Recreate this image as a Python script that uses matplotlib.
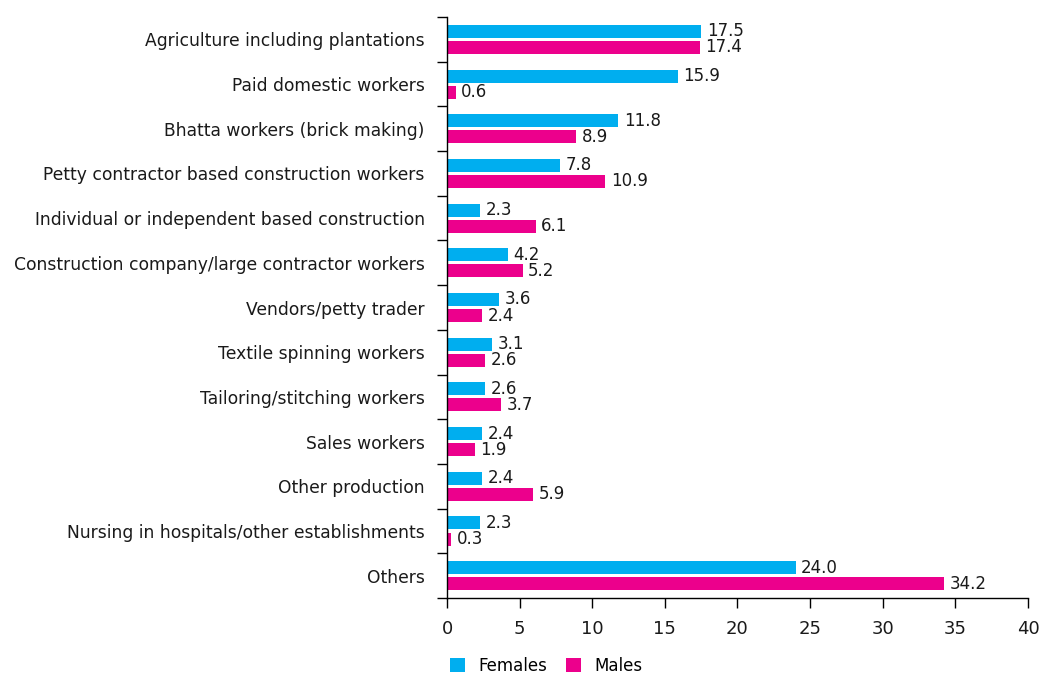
import matplotlib.pyplot as plt
import numpy as np

categories = [
    "Agriculture including plantations",
    "Paid domestic workers",
    "Bhatta workers (brick making)",
    "Petty contractor based construction workers",
    "Individual or independent based construction",
    "Construction company/large contractor workers",
    "Vendors/petty trader",
    "Textile spinning workers",
    "Tailoring/stitching workers",
    "Sales workers",
    "Other production",
    "Nursing in hospitals/other establishments",
    "Others",
]
females = [17.5, 15.9, 11.8, 7.8, 2.3, 4.2, 3.6, 3.1, 2.6, 2.4, 2.4, 2.3, 24.0]
males = [17.4, 0.6, 8.9, 10.9, 6.1, 5.2, 2.4, 2.6, 3.7, 1.9, 5.9, 0.3, 34.2]

plt.rcParams['font.family'] = ['DejaVu Sans']

fig = plt.figure(figsize=(10.41, 6.73), dpi=100)
ax = fig.add_axes([0.4294, 0.1114, 0.5581, 0.8633])

y = np.arange(len(categories))
h = 0.29
gap = 0.07
fc = '#00AEEF'
mc = '#EC008C'
b1 = ax.barh(y - (h + gap) / 2, females, height=h, color=fc, label='Females')
b2 = ax.barh(y + (h + gap) / 2, males, height=h, color=mc, label='Males')

for bars, vals in ((b1, females), (b2, males)):
    for b, v in zip(bars, vals):
        ax.annotate(f"{v:.1f}", (v, b.get_y() + b.get_height() / 2),
                    xytext=(4, 0), textcoords='offset points',
                    va='center', ha='left', fontsize=12, color='#1a1a1a')

ax.set_ylim(len(categories) - 0.5, -0.5)
ax.set_xlim(0, 40)
ax.set_xticks(range(0, 41, 5))
ax.set_yticks(np.arange(-0.5, len(categories), 1))
ax.set_yticklabels([])
ax.set_yticks(y, minor=True)
ax.set_yticklabels(categories, minor=True, fontsize=12.3, color='#1a1a1a')
ax.tick_params(axis='y', which='minor', length=0, pad=16)
ax.tick_params(axis='y', which='major', length=7, width=1)
ax.tick_params(axis='x', length=7, width=1, labelsize=13, pad=9, labelcolor='#1a1a1a')

for s in ('top', 'right'):
    ax.spines[s].set_visible(False)
ax.spines['left'].set_linewidth(1)
ax.spines['bottom'].set_linewidth(1)

fig.legend(handles=[b1, b2], loc='lower left', bbox_to_anchor=(0.418, -0.025),
           ncol=2, frameon=False, fontsize=12, handlelength=0.9, handleheight=0.9,
           columnspacing=1.1, handletextpad=0.8)

fig.savefig('out.png', dpi=100)
